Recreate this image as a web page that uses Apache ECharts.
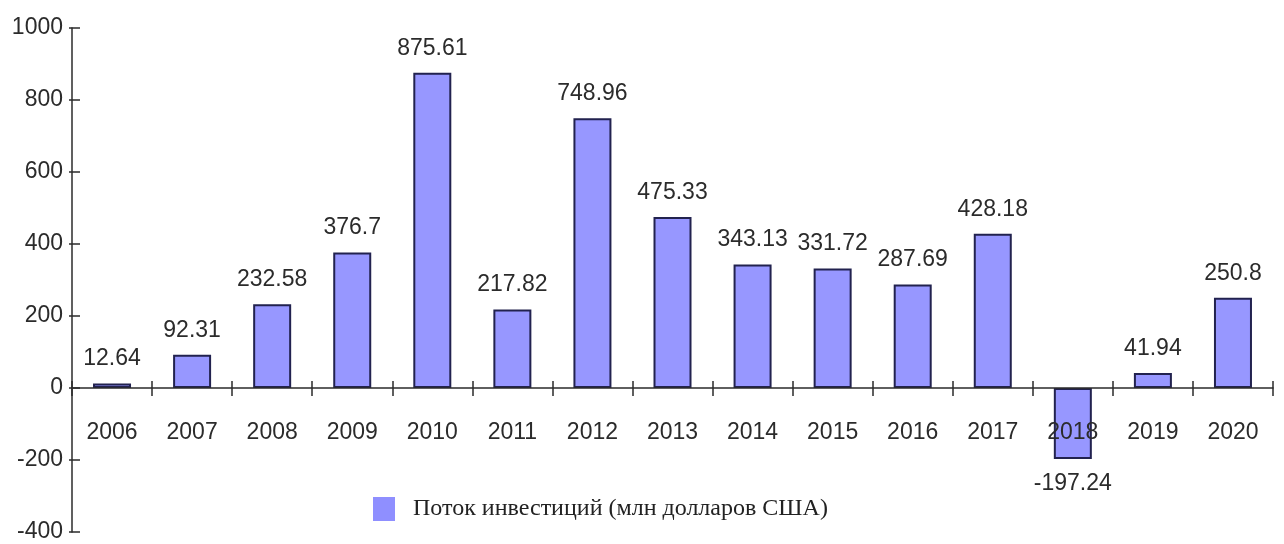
<!DOCTYPE html>
<html>
<head>
<meta charset="utf-8">
<script src="https://cdn.jsdelivr.net/npm/echarts@6/dist/echarts.min.js"></script>
<style>
  html, body { margin: 0; padding: 0; background: #fff; }
  #chart { width: 1284px; height: 544px; }
</style>
</head>
<body>
<div id="chart"></div>
<script>
// Annual investment flow, million US dollars
const years = ['2006', '2007', '2008', '2009', '2010', '2011', '2012', '2013',
               '2014', '2015', '2016', '2017', '2018', '2019', '2020'];
const flows = [12.64, 92.31, 232.58, 376.7, 875.61, 217.82, 748.96, 475.33,
               343.13, 331.72, 287.69, 428.18, -197.24, 41.94, 250.8];
const seriesName = 'Поток инвестиций (млн долларов США)';
const yTicks = { min: -400, max: 1000, interval: 200 };

const sansFont = '"Liberation Sans", Arial, sans-serif';
const ink = '#2b2b2b';

const W = 1284, H = 544;
const grid = { left: 72, right: 11, top: 28, bottom: 12 };
// distance of the zero level from the bottom and top edges of the plot
const plotH = H - grid.top - grid.bottom;
const zeroLift = (0 - yTicks.min) / (yTicks.max - yTicks.min) * plotH;
const zeroDrop = plotH - zeroLift;

const chart = echarts.init(document.getElementById('chart'), null, { renderer: 'canvas' });

const barData = flows.map(v => ({
  value: v,
  label: { position: v < 0 ? 'bottom' : 'top' }
}));

const tickLine = { color: ink, width: 1.5 };

chart.setOption({
  animation: false,
  backgroundColor: '#ffffff',
  grid: Object.assign({ containLabel: false, outerBoundsMode: 'none' }, grid),
  legend: {
    data: [seriesName],
    left: 373,
    top: 497,
    padding: 0,
    icon: 'rect',
    itemWidth: 22,
    itemHeight: 24,
    itemStyle: { color: '#8f8fff', borderWidth: 0 },
    textStyle: {
      fontFamily: '"Liberation Serif", "Times New Roman", serif',
      fontSize: 24,
      color: '#222',
      padding: [0, 0, 0, 13]
    }
  },
  xAxis: [
    {
      type: 'category',
      data: years,
      position: 'bottom',
      offset: -zeroLift,
      z: 5,
      axisLine: { onZero: false, lineStyle: { color: ink, width: 1.5 } },
      axisTick: { show: true, interval: 0, length: 8, lineStyle: tickLine },
      axisLabel: { interval: 0, margin: 33, fontFamily: sansFont, fontSize: 23, color: ink },
      splitLine: { show: false }
    },
    {
      // upper half of the category ticks that cross the zero line
      type: 'category',
      data: years,
      position: 'top',
      offset: -zeroDrop,
      z: 5,
      axisLine: { show: false, onZero: false },
      axisTick: { show: true, interval: 0, length: 7, lineStyle: tickLine },
      axisLabel: { show: false },
      splitLine: { show: false }
    }
  ],
  yAxis: [
    {
      type: 'value',
      min: yTicks.min,
      max: yTicks.max,
      interval: yTicks.interval,
      axisLine: { show: true, lineStyle: { color: ink, width: 1.5 } },
      axisTick: { show: true, inside: true, length: 8, lineStyle: tickLine },
      axisLabel: { margin: 9, fontFamily: sansFont, fontSize: 23, color: ink, formatter: v => String(v) },
      splitLine: { show: false }
    },
    {
      // short outer stubs of the value ticks
      type: 'value',
      position: 'left',
      min: yTicks.min,
      max: yTicks.max,
      interval: yTicks.interval,
      axisLine: { show: false, onZero: false },
      axisTick: { show: true, length: 3, lineStyle: tickLine },
      axisLabel: { show: false },
      splitLine: { show: false }
    }
  ],
  series: [
    {
      name: seriesName,
      type: 'bar',
      data: barData,
      barWidth: 38,
      z: 2,
      itemStyle: { color: '#9797ff', borderColor: '#22224f', borderWidth: 2 },
      label: {
        show: true,
        distance: 13,
        fontFamily: sansFont,
        fontSize: 23,
        color: ink
      }
    }
  ]
});
</script>
</body>
</html>
